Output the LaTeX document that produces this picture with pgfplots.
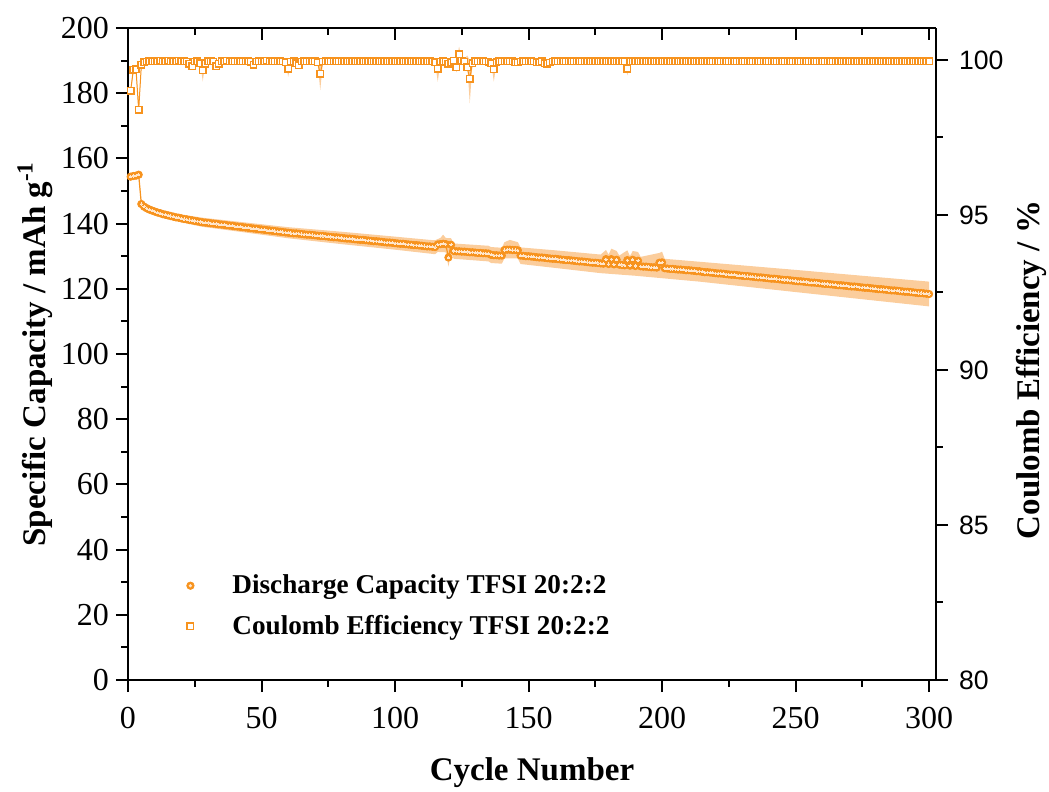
\documentclass[border=0pt]{standalone}
\usepackage{fontspec}
\setmainfont{Liberation Serif}
\newfontfamily\arialfont{Liberation Sans}
\usepackage{pgfplots}
\usepackage{pgfplotstable}
\pgfplotsset{compat=1.18}
\definecolor{orC}{HTML}{F7931E}
\definecolor{bandC}{HTML}{FBCD9C}
\definecolor{dotC}{HTML}{FFE6CC}

\pgfplotsset{
  every axis/.append style={
    scale only axis, width=404pt, height=326pt,
    xmin=0, xmax=302.6, clip=false,
    axis line style={line width=1pt},
    tick style={line width=1pt, black},
    major tick length=6pt, minor tick length=3.3pt,
    tick align=outside,
  },
}

% discharge capacity, mAh/g
\pgfplotstableread[row sep=\\]{
x y\\
1 154.4\\ 2 154.6\\ 3 154.7\\ 4 155.0\\ 5 146.0\\ 6 145.2\\ 7 144.7\\ 8 144.3\\ 9 144.0\\ 10 143.7\\
11 143.4\\ 12 143.2\\ 13 142.9\\ 14 142.7\\ 15 142.5\\ 16 142.3\\ 17 142.1\\ 18 141.9\\ 19 141.8\\ 20 141.6\\
21 141.4\\ 22 141.3\\ 23 141.1\\ 24 141.0\\ 25 140.8\\ 26 140.7\\ 27 140.5\\ 28 140.4\\ 29 140.3\\ 30 140.2\\
31 140.1\\ 32 140.0\\ 33 139.9\\ 34 139.8\\ 35 139.7\\ 36 139.6\\ 37 139.5\\ 38 139.4\\ 39 139.3\\ 40 139.2\\
41 139.1\\ 42 139.0\\ 43 138.9\\ 44 138.8\\ 45 138.7\\ 46 138.6\\ 47 138.5\\ 48 138.4\\ 49 138.3\\ 50 138.2\\
51 138.1\\ 52 138.0\\ 53 137.9\\ 54 137.8\\ 55 137.7\\ 56 137.6\\ 57 137.5\\ 58 137.4\\ 59 137.3\\ 60 137.2\\
61 137.1\\ 62 137.0\\ 63 137.0\\ 64 136.9\\ 65 136.8\\ 66 136.7\\ 67 136.6\\ 68 136.6\\ 69 136.5\\ 70 136.4\\
71 136.3\\ 72 136.2\\ 73 136.2\\ 74 136.1\\ 75 136.0\\ 76 135.9\\ 77 135.8\\ 78 135.8\\ 79 135.7\\ 80 135.6\\
81 135.5\\ 82 135.4\\ 83 135.4\\ 84 135.3\\ 85 135.2\\ 86 135.1\\ 87 135.0\\ 88 135.0\\ 89 134.9\\ 90 134.8\\
91 134.7\\ 92 134.6\\ 93 134.6\\ 94 134.5\\ 95 134.4\\ 96 134.3\\ 97 134.2\\ 98 134.2\\ 99 134.1\\ 100 134.0\\
101 133.9\\ 102 133.8\\ 103 133.8\\ 104 133.7\\ 105 133.6\\ 106 133.5\\ 107 133.4\\ 108 133.4\\ 109 133.3\\ 110 133.2\\
111 133.1\\ 112 133.0\\ 113 133.0\\ 114 132.9\\ 115 132.8\\ 116 133.6\\ 117 133.7\\ 118 133.8\\ 119 133.7\\ 120 129.6\\
121 133.5\\ 122 131.6\\ 123 131.5\\ 124 131.5\\ 125 131.4\\ 126 131.4\\ 127 131.3\\ 128 131.2\\ 129 131.2\\ 130 131.1\\
131 131.0\\ 132 131.0\\ 133 130.9\\ 134 130.9\\ 135 130.8\\ 136 130.4\\ 137 130.3\\ 138 130.3\\ 139 130.2\\ 140 130.2\\
141 131.9\\ 142 132.0\\ 143 132.0\\ 144 131.9\\ 145 131.9\\ 146 131.8\\ 147 130.2\\ 148 130.1\\ 149 130.0\\ 150 130.0\\
151 129.9\\ 152 129.8\\ 153 129.7\\ 154 129.6\\ 155 129.6\\ 156 129.5\\ 157 129.4\\ 158 129.3\\ 159 129.2\\ 160 129.2\\
161 129.1\\ 162 129.0\\ 163 128.9\\ 164 128.8\\ 165 128.8\\ 166 128.7\\ 167 128.6\\ 168 128.5\\ 169 128.4\\ 170 128.4\\
171 128.3\\ 172 128.2\\ 173 128.1\\ 174 128.0\\ 175 128.0\\ 176 127.9\\ 177 127.8\\ 178 127.7\\ 179 129.1\\ 180 127.6\\
181 129.1\\ 182 127.5\\ 183 128.9\\ 184 127.4\\ 185 127.3\\ 186 127.2\\ 187 128.8\\ 188 127.1\\ 189 128.9\\ 190 127.0\\
191 128.6\\ 192 126.9\\ 193 126.8\\ 194 126.8\\ 195 126.7\\ 196 126.6\\ 197 126.6\\ 198 126.5\\ 199 128.0\\ 200 128.1\\
201 126.3\\ 202 126.2\\ 203 126.1\\ 204 126.1\\ 205 126.0\\ 206 125.9\\ 207 125.9\\ 208 125.8\\ 209 125.7\\ 210 125.7\\
211 125.6\\ 212 125.5\\ 213 125.4\\ 214 125.4\\ 215 125.2\\ 216 125.1\\ 217 125.1\\ 218 125.0\\ 219 124.9\\ 220 124.8\\
221 124.7\\ 222 124.7\\ 223 124.6\\ 224 124.5\\ 225 124.4\\ 226 124.3\\ 227 124.3\\ 228 124.2\\ 229 124.1\\ 230 124.0\\
231 123.9\\ 232 123.9\\ 233 123.8\\ 234 123.7\\ 235 123.6\\ 236 123.5\\ 237 123.5\\ 238 123.4\\ 239 123.3\\ 240 123.2\\
241 123.1\\ 242 123.1\\ 243 123.0\\ 244 122.9\\ 245 122.8\\ 246 122.7\\ 247 122.7\\ 248 122.6\\ 249 122.5\\ 250 122.4\\
251 122.3\\ 252 122.3\\ 253 122.2\\ 254 122.1\\ 255 122.0\\ 256 121.9\\ 257 121.9\\ 258 121.8\\ 259 121.7\\ 260 121.6\\
261 121.5\\ 262 121.5\\ 263 121.4\\ 264 121.3\\ 265 121.2\\ 266 121.1\\ 267 121.1\\ 268 121.0\\ 269 120.9\\ 270 120.8\\
271 120.7\\ 272 120.7\\ 273 120.6\\ 274 120.5\\ 275 120.4\\ 276 120.3\\ 277 120.3\\ 278 120.2\\ 279 120.1\\ 280 120.0\\
281 119.9\\ 282 119.9\\ 283 119.8\\ 284 119.7\\ 285 119.6\\ 286 119.5\\ 287 119.5\\ 288 119.4\\ 289 119.3\\ 290 119.2\\
291 119.1\\ 292 119.1\\ 293 119.0\\ 294 118.9\\ 295 118.8\\ 296 118.7\\ 297 118.7\\ 298 118.6\\ 299 118.5\\ 300 118.4\\
}\capdata

\begin{document}
\begin{tikzpicture}
% left axis: discharge capacity
\begin{axis}[
  axis x line*=bottom, axis y line*=left,
  ymin=0, ymax=200, ytick={0,20,...,200}, minor y tick num=1,
  xtick={0,50,...,300}, minor x tick num=1,
  tick label style={font=\fontsize{16}{19}\selectfont},
  /pgf/number format/assume math mode=true,
  xticklabel style={yshift=-4pt},
  xlabel={Cycle Number},
  ylabel={Specific Capacity / mAh g\textsuperscript{-1}},
  label style={font=\bfseries\fontsize{16.5}{20}\selectfont},
  xlabel style={at={(axis description cs:0.5,-0.1426)}, anchor=center},
  ylabel style={at={(axis description cs:-0.1151,0.5)}, anchor=center},
  legend cell align=left,
  legend image code/.code={\path[draw=none, fill=none] (-5pt,-4pt) (5pt,4pt);
    \draw[#1] plot coordinates {(0pt,0pt)};},
  legend style={draw=none, fill=none, inner sep=0pt,
    at={(axis description cs:0.0644,0.162)}, anchor=north west,
    row sep=9.2pt, column sep=16pt,
    nodes={inner sep=0pt, text depth=0.15em},
    font=\bfseries\fontsize{13.6}{16}\selectfont},
]
\addplot[fill=bandC, draw=none, forget plot] coordinates {
  (1,155.2) (4,155.8) (5,147.0) (10,144.8) (20,142.8) (28,141.8) (40,140.7)
  (60,138.9) (80,137.5) (100,136.0) (113,135.0) (115,134.9) (117,135.6)
  (118,136.6) (119,135.6) (121,135.5) (122,133.9) (135,133.2) (136,132.8)
  (140,132.6) (141,134.3) (143,135.0) (146,134.3) (147,132.7) (160,131.8)
  (177,130.5) (179,131.9) (180,130.5) (181,132.3) (183,131.6) (184,130.2)
  (187,131.8) (188,130.0) (189,131.6) (191,131.3) (192,129.8) (199,131.0)
  (200,131.4) (201,129.2) (214,128.3) (250,125.8) (300,122.2)
  (300,114.6) (250,119.0) (214,122.2) (190,124.0) (177,124.8) (160,126.4)
  (147,127.6) (146,129.3) (141,129.3) (140,127.7) (136,127.9) (135,128.4)
  (122,129.2) (121,131.0) (120,126.8) (119,131.2) (116,131.3) (115,130.6)
  (113,130.8) (100,132.0) (80,133.7) (60,135.5) (40,137.7) (28,139.0)
  (20,140.4) (10,142.6) (5,145.0) (4,154.2) (1,153.6)
};
\addplot[color=orC, line width=0.6pt, mark=*, mark size=1.85pt,
  mark options={line width=0.4pt}, forget plot] table {\capdata};
\addplot[color=dotC, only marks, mark=*, mark size=0.55pt,
  mark options={line width=0pt}, forget plot] table {\capdata};
\addlegendimage{color=orC, only marks, mark=*, mark size=1.85pt,
  legend image code/.code={\path[draw=none, fill=none] (-5pt,-4pt) (5pt,4pt);
    \draw[color=orC, only marks, mark=*, mark size=1.85pt]
      plot coordinates {(0pt,0pt)};
    \draw[color=dotC, only marks, mark=*, mark size=0.6pt]
      plot coordinates {(0pt,0pt)};}}
\addlegendentry{Discharge Capacity TFSI 20:2:2}
\addlegendimage{color=orC, only marks, mark=square*, mark size=1.6pt,
  mark options={fill=white, line width=0.75pt}}
\addlegendentry{Coulomb Efficiency TFSI 20:2:2}
\end{axis}

% right axis: coulomb efficiency
\begin{axis}[
  axis x line=none, axis y line*=right,
  ymin=80, ymax=101.032, ytick={80,85,...,100}, minor y tick num=1,
  yticklabel style={font=\arialfont\fontsize{13.3}{16}\selectfont, xshift=2pt},
  /pgf/number format/assume math mode=true,
  ylabel={Coulomb Efficiency / \%},
  ylabel style={font=\bfseries\fontsize{16.5}{20}\selectfont,
    at={(axis description cs:1.1176,0.4755)}, anchor=center},
]
\addplot[fill=bandC, draw=none] coordinates {
  (1,99.1) (2,99.75) (3,99.78) (4,98.5) (5,99.88) (6,99.98) (123,99.99)
  (124,100.43) (125,99.99) (126,99.99) (127,100.15) (128,99.99) (300,99.99)
  (300,99.92) (188,99.92) (187,99.5) (186,99.92) (138,99.92) (137,99.3)
  (136,99.92) (129,99.92) (128,98.6) (127,99.92) (124,99.92) (123,99.6)
  (122,99.92) (117,99.92) (116,99.3) (115,99.92) (73,99.92) (72,99.03)
  (71,99.92) (61,99.92) (60,99.46) (59,99.92) (29,99.92) (28,99.31)
  (27,99.92) (6,99.9) (5,99.8) (4,98.3) (3,99.6) (2,99.6) (1,98.9)
};
\addplot[color=orC, line width=0.5pt, mark=square*, mark size=1.6pt,
  mark options={fill=white, line width=0.75pt}] coordinates {
(1,99.01) (2,99.68) (3,99.70) (4,98.39) (5,99.84) (6,99.93) (7,99.95) (8,99.96) (9,99.96) (10,99.96)
(11,99.96) (12,99.97) (13,99.96) (14,99.96) (15,99.97) (16,99.96) (17,99.96) (18,99.96) (19,99.97) (20,99.96)
(21,99.96) (22,99.95) (23,99.88) (24,99.80) (25,99.95) (26,99.96) (27,99.90) (28,99.66) (29,99.88) (30,99.96)
(31,99.96) (32,99.95) (33,99.80) (34,99.88) (35,99.96) (36,99.96) (37,99.97) (38,99.96) (39,99.96) (40,99.96)
(41,99.96) (42,99.96) (43,99.95) (44,99.96) (45,99.96) (46,99.94) (47,99.85) (48,99.95) (49,99.96) (50,99.96)
(51,99.96) (52,99.97) (53,99.96) (54,99.96) (55,99.96) (56,99.96) (57,99.96) (58,99.95) (59,99.92) (60,99.72)
(61,99.94) (62,99.96) (63,99.90) (64,99.83) (65,99.95) (66,99.96) (67,99.96) (68,99.96) (69,99.96) (70,99.96)
(71,99.92) (72,99.56) (73,99.95) (74,99.96) (75,99.96) (76,99.96) (77,99.96) (78,99.96) (79,99.96) (80,99.96)
(81,99.96) (82,99.96) (83,99.96) (84,99.95) (85,99.96) (86,99.96) (87,99.96) (88,99.96) (89,99.96) (90,99.96)
(91,99.96) (92,99.96) (93,99.96) (94,99.96) (95,99.96) (96,99.96) (97,99.96) (98,99.96) (99,99.95) (100,99.96)
(101,99.96) (102,99.96) (103,99.96) (104,99.96) (105,99.96) (106,99.96) (107,99.96) (108,99.96) (109,99.96) (110,99.96)
(111,99.96) (112,99.96) (113,99.96) (114,99.95) (115,99.93) (116,99.72) (117,99.95) (118,99.96) (119,99.94) (120,99.88)
(121,99.93) (122,99.97) (123,99.76) (124,100.19) (125,99.97) (126,99.95) (127,99.76) (128,99.40) (129,99.90) (130,99.96)
(131,99.96) (132,99.96) (133,99.96) (134,99.95) (135,99.94) (136,99.90) (137,99.70) (138,99.93) (139,99.96) (140,99.96)
(141,99.96) (142,99.96) (143,99.96) (144,99.96) (145,99.93) (146,99.92) (147,99.95) (148,99.96) (149,99.96) (150,99.96)
(151,99.96) (152,99.95) (153,99.93) (154,99.92) (155,99.96) (156,99.90) (157,99.88) (158,99.92) (159,99.95) (160,99.96)
(161,99.96) (162,99.96) (163,99.95) (164,99.96) (165,99.96) (166,99.96) (167,99.96) (168,99.95) (169,99.96) (170,99.96)
(171,99.96) (172,99.96) (173,99.96) (174,99.96) (175,99.95) (176,99.96) (177,99.96) (178,99.96) (179,99.96) (180,99.96)
(181,99.96) (182,99.96) (183,99.96) (184,99.96) (185,99.96) (186,99.95) (187,99.72) (188,99.96) (189,99.96) (190,99.96)
(191,99.96) (192,99.96) (193,99.96) (194,99.96) (195,99.96) (196,99.96) (197,99.96) (198,99.96) (199,99.95) (200,99.96)
(201,99.96) (202,99.96) (203,99.96) (204,99.96) (205,99.95) (206,99.96) (207,99.96) (208,99.96) (209,99.96) (210,99.96)
(211,99.96) (212,99.96) (213,99.96) (214,99.96) (215,99.96) (216,99.96) (217,99.96) (218,99.96) (219,99.96) (220,99.96)
(221,99.96) (222,99.96) (223,99.96) (224,99.96) (225,99.96) (226,99.96) (227,99.96) (228,99.96) (229,99.96) (230,99.96)
(231,99.96) (232,99.96) (233,99.96) (234,99.96) (235,99.96) (236,99.96) (237,99.96) (238,99.96) (239,99.96) (240,99.96)
(241,99.96) (242,99.96) (243,99.96) (244,99.96) (245,99.96) (246,99.96) (247,99.96) (248,99.96) (249,99.96) (250,99.96)
(251,99.96) (252,99.96) (253,99.96) (254,99.96) (255,99.96) (256,99.96) (257,99.96) (258,99.96) (259,99.96) (260,99.96)
(261,99.96) (262,99.96) (263,99.96) (264,99.96) (265,99.96) (266,99.96) (267,99.96) (268,99.96) (269,99.96) (270,99.96)
(271,99.96) (272,99.96) (273,99.96) (274,99.96) (275,99.96) (276,99.96) (277,99.96) (278,99.96) (279,99.96) (280,99.96)
(281,99.96) (282,99.96) (283,99.96) (284,99.96) (285,99.96) (286,99.96) (287,99.96) (288,99.96) (289,99.96) (290,99.96)
(291,99.96) (292,99.96) (293,99.96) (294,99.96) (295,99.96) (296,99.96) (297,99.96) (298,99.96) (299,99.96) (300,99.96)
};
\end{axis}

% top axis: inward ticks only
\begin{axis}[
  axis x line*=top, axis y line=none, tick align=inside,
  ymin=0, ymax=1,
  xtick={0,50,...,300}, minor x tick num=1, xticklabels={},
]
\end{axis}

\pgfresetboundingbox
\path[use as bounding box] (-64pt,-56pt) rectangle (460.5pt,340pt);
\end{tikzpicture}
\end{document}
